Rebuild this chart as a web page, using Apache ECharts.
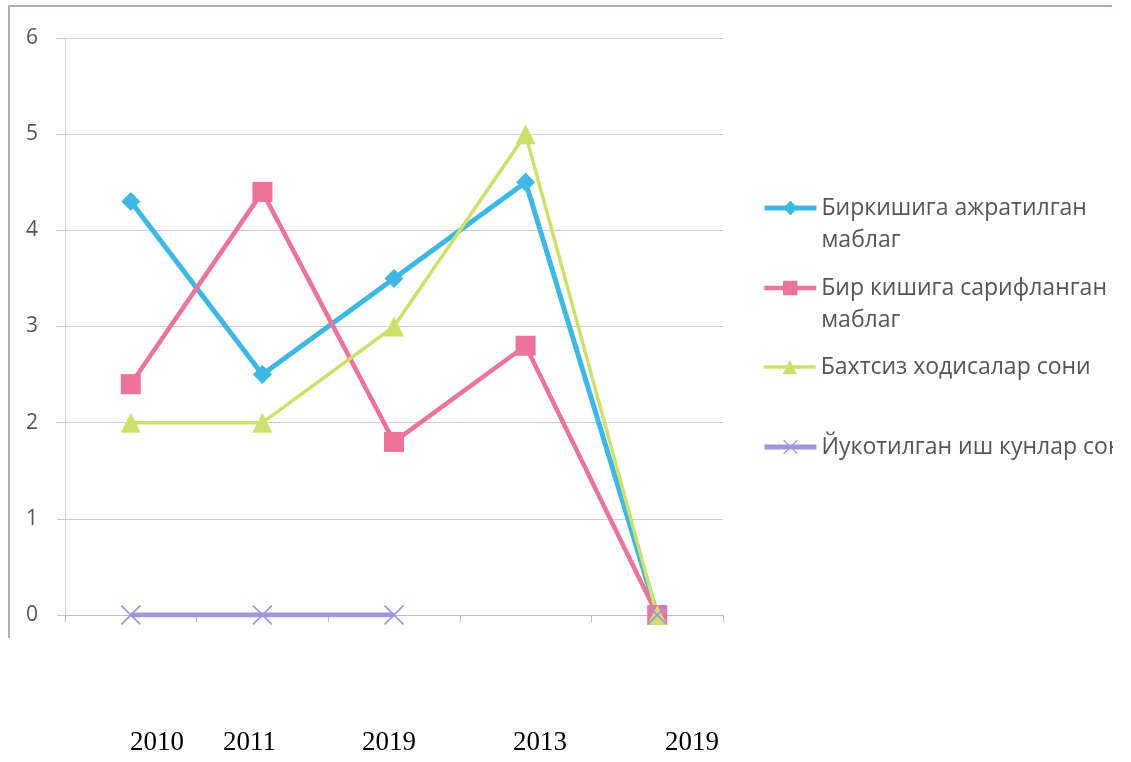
<!DOCTYPE html>
<html>
<head>
<meta charset="utf-8">
<script src="https://cdn.jsdelivr.net/npm/echarts@6/dist/echarts.min.js"></script>
<style>
html,body{margin:0;padding:0;background:#fff;}
#chart{width:1113px;height:762px;}
</style>
</head>
<body>
<div id="chart"></div>
<script>
// ---- data ----
var categories = ['2010', '2011', '2019', '2013', '2019'];
var tickLabels = ['2010', '2011', '2019', '2013', '2019'];
var seriesNames = [
  'Биркишига ажратилган маблаг',
  'Бир кишига сарифланган маблаг',
  'Бахтсиз ходисалар сони',
  'Йукотилган иш кунлар сони'
];
var allocated = [4.3, 2.5, 3.5, 4.5, 0];
var spent = [2.4, 4.4, 1.8, 2.8, 0];
var accidents = [2, 2, 3, 5, 0];
var lostDays = [0, 0, 0, null, 0];
var yTicks = [0, 1, 2, 3, 4, 5, 6];

// ---- chart ----
var colors = ['#3db7e4', '#ec7399', '#cde06c', '#a096dc'];
var xPath = 'path://M0,6 L6,0 L50,44 L94,0 L100,6 L56,50 L100,94 L94,100 L50,56 L6,100 L0,94 L44,50 Z';
var font = '"Open Sans", "Noto Sans", sans-serif';

var chart = echarts.init(document.getElementById('chart'), null, {renderer: 'canvas'});

function wrapName(n) {
  if (n === seriesNames[0]) return '\nБиркишига ажратилган\nмаблаг';
  if (n === seriesNames[1]) return '\nБир кишига сарифланган\nмаблаг';
  return n;
}

var legendTops = [160, 240, 351, 431];
var lineWidths = [5, 4.5, 3.5, 5];
var legends = seriesNames.map(function (n, i) {
  return {
    orient: 'vertical',
    left: 762,
    top: legendTops[i],
    padding: 0,
    itemWidth: 52,
    itemHeight: 18,
    data: [n],
    formatter: wrapName,
    lineStyle: {width: lineWidths[i]},
    textStyle: {
      fontFamily: font,
      fontSize: 23,
      color: '#555',
      lineHeight: 32
    }
  };
});

var graphics = [
  {
    type: 'polyline',
    shape: {points: [[9, 638], [9, 6], [1112, 6]]},
    style: {stroke: '#aaaacb', lineWidth: 2, fill: null},
    silent: true
  }
];
var labelX = [157, 250, 389, 540, 692];
tickLabels.forEach(function (t, i) {
  graphics.push({
    type: 'text',
    left: labelX[i] - 27,
    top: 729,
    style: {text: t, font: '27px "Liberation Serif", "Times New Roman", serif', fill: '#000'}
  });
});

var option = {
  backgroundColor: '#fff',
  animation: false,
  color: colors,
  grid: {left: 65, right: 390, top: 38, bottom: 147, containLabel: false},
  legend: legends,
  graphic: graphics,
  xAxis: {
    type: 'category',
    data: categories,
    boundaryGap: true,
    axisLine: {show: true, lineStyle: {color: '#bdbdbd', width: 1}},
    axisTick: {show: true, length: 7, lineStyle: {color: '#bdbdbd'}},
    axisLabel: {show: false},
    splitLine: {show: false}
  },
  yAxis: {
    type: 'value',
    min: yTicks[0],
    max: yTicks[yTicks.length - 1],
    interval: 1,
    axisLine: {show: true, lineStyle: {color: '#d0d0d8'}},
    axisTick: {show: true, length: 8, lineStyle: {color: '#c4c4c4'}},
    axisLabel: {color: '#555', fontSize: 21, fontFamily: font, margin: 27},
    splitLine: {show: true, lineStyle: {color: '#cfcfcf', width: 1}}
  },
  series: [
    {
      name: seriesNames[0], type: 'line', data: allocated,
      symbol: 'diamond', symbolSize: 19,
      lineStyle: {width: lineWidths[0], color: colors[0]},
      itemStyle: {color: colors[0]}
    },
    {
      name: seriesNames[1], type: 'line', data: spent,
      symbol: 'rect', symbolSize: 20,
      lineStyle: {width: lineWidths[1], color: colors[1]},
      itemStyle: {color: colors[1]}
    },
    {
      name: seriesNames[2], type: 'line', data: accidents,
      symbol: 'triangle', symbolSize: 20,
      lineStyle: {width: lineWidths[2], color: colors[2]},
      itemStyle: {color: colors[2]}
    },
    {
      name: seriesNames[3], type: 'line', data: lostDays,
      symbol: xPath, symbolSize: 20,
      connectNulls: false,
      lineStyle: {width: lineWidths[3], color: colors[3]},
      itemStyle: {color: colors[3]}
    }
  ]
};
chart.setOption(option);
</script>
</body>
</html>
